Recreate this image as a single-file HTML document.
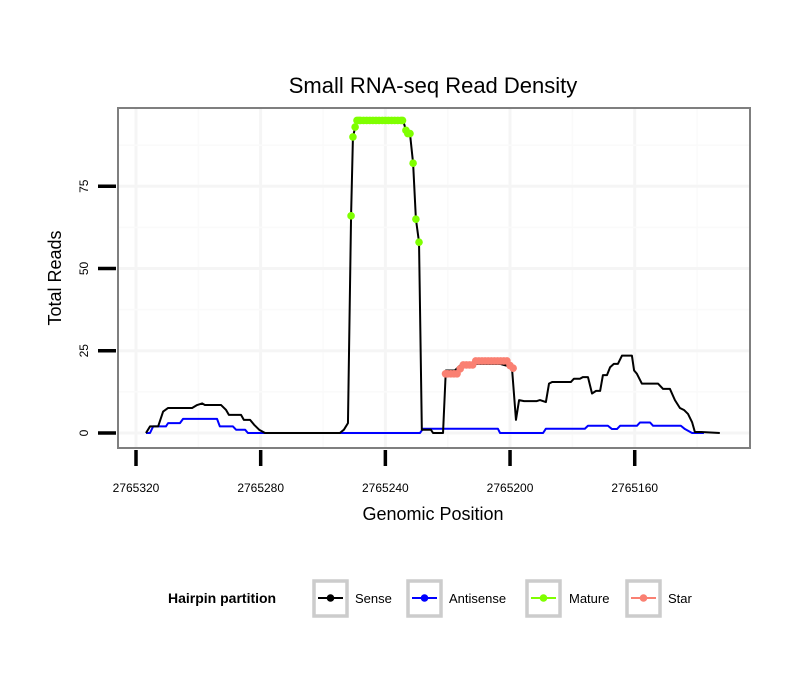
<!DOCTYPE html>
<html><head><meta charset="utf-8"><style>
body{margin:0;background:#fff;font-family:"Liberation Sans",sans-serif}
svg text{font-family:"Liberation Sans",sans-serif}
</style></head><body>
<svg id="chart" width="810" height="690" xmlns="http://www.w3.org/2000/svg">
<rect width="810" height="690" fill="#fff"/>
<text x="433" y="93" font-size="22" text-anchor="middle">Small RNA-seq Read Density</text>
<g id="grid"></g>
<g id="plot"></g>
<rect x="118" y="108" width="632" height="340" fill="none" stroke="#7f7f7f" stroke-width="2"/>
<g id="axes"></g>
<text x="433" y="520" font-size="18" text-anchor="middle">Genomic Position</text>
<text transform="translate(61,278) rotate(-90)" font-size="18" text-anchor="middle">Total Reads</text>
<g>
<text x="168" y="603" font-size="14" font-weight="bold">Hairpin partition</text>
<g id="legend"></g>
</g>
</svg>
<script>
const B = 2765320;
const xTicks = [2765320, 2765280, 2765240, 2765200, 2765160];
const yTicks = [0, 25, 50, 75];
const sensePos = [3.2,4.5,7.1,8.7,10.3,18.0,19.6,21.2,22.1,27.3,28.9,29.8,33.7,34.6,36.6,37.9,39.5,41.4,65.4,66.7,68.0,69.0,69.6,70.6,71.9,85.7,86.6,87.9,88.9,89.8,90.8,91.7,94.6,95.3,98.5,99.4,102.3,103.9,107.1,110.4,116.8,120.6,121.9,122.9,124.5,128.6,129.6,131.5,132.5,133.5,139.5,140.5,142.4,143.4,145.0,146.3,147.6,148.9,149.8,151.1,152.1,153.3,154.6,155.9,159.1,159.8,160.7,162.3,167.5,169.1,171.3,172.9,174.5,175.8,177.1,178.4,179.3,181.3,187.3].map(d => B - d);
const senseVal = [0,2,2,6.5,7.6,7.6,8.5,9,8.5,8.5,7,5.5,5.5,4,4,2.5,1,0,0,1,3,66,90,94,95,95,92,91,82,65,58,1,1,0,0,19,19,20.5,21,21,21,20,4,10,9.7,9.7,10,9.4,15,15.5,15.5,16.5,16.5,17,17,12,12.8,12.8,17.6,17.6,20,21,21,23.5,23.5,19,18,15,15,13.4,13.4,10,7.6,7,5.8,3.3,0.3,0.3,0];
const antiPos = [3.2,4.5,5.5,9.6,10.3,14.1,15.1,26.0,26.9,31.1,32.1,35.0,35.9,91.1,92.1,116.1,116.8,130.6,131.5,144.0,145.0,151.4,152.7,154.3,155.3,160.7,161.7,164.9,165.9,174.8,176.1,178.4,182.2].map(d => B - d);
const antiVal = [0,0,2,2,3,3,4.3,4.3,2,2,1,1,0,0,1.3,1.3,0,0,1.3,1.3,2.2,2.2,1.2,1.2,2.2,2.2,3.2,3.2,2.2,2.2,1.2,0,0];
const maturePos = [69.0,69.6,70.3,70.9,71.5,72,73,74,75,76,77,78,79,80,81,82,83,84,85,85.5,86.6,87.2,87.9,88.9,89.8,90.8].map(d => B - d);
const matureVal = [66,90,93,95,95,95,95,95,95,95,95,95,95,95,95,95,95,95,95,95,92,91,91,82,65,58];
const starPos = [99.3,100,101,102,103,104,105,106,107,108,109,110,111,112,113,114,115,116,117,118,119,120,121].map(d => B - d);
const starVal = [18,18,18,18,18,19.5,20.7,20.7,20.7,20.7,21.9,21.9,21.9,21.9,21.9,21.9,21.9,21.9,21.9,21.9,21.9,20.5,19.7];

const NS = "http://www.w3.org/2000/svg";
const xs = v => 136 + (B - v) * 3.117;
const ys = v => 433 - v * 3.29;
function mk(tag, attrs, parent){const e=document.createElementNS(NS,tag);for(const k in attrs)e.setAttribute(k,attrs[k]);parent.appendChild(e);return e;}
const grid=document.getElementById('grid'), plot=document.getElementById('plot'), axes=document.getElementById('axes');
mk('rect',{x:118,y:108,width:632,height:340,fill:'#fff'},grid);
for(let i=0;i<xTicks.length;i++){
  const gx=xs(xTicks[i]);
  const l=mk('line',{x1:gx,x2:gx,y1:109,y2:447,stroke:'#f5f5f5','stroke-width':3},grid);
  
  
  const mx=xs(xTicks[i]-20);
  if(mx<750) mk('line',{x1:mx,x2:mx,y1:109,y2:447,stroke:'#fafafa','stroke-width':1.5},grid);
}
for(let i=0;i<yTicks.length;i++){
  const gy=ys(yTicks[i]);
  const l=mk('line',{x1:119,x2:749,y1:gy,y2:gy,stroke:'#f5f5f5','stroke-width':3},grid);
  
  
  const my=ys(yTicks[i]+12.5);
  if(my>108) mk('line',{x1:119,x2:749,y1:my,y2:my,stroke:'#fafafa','stroke-width':1.5},grid);
}
function line(pos,val,color,name){
  const p=mk('polyline',{points:pos.map((v,i)=>xs(v)+','+ys(val[i])).join(' '),fill:'none',stroke:color,'stroke-width':2,'stroke-linejoin':'round'},plot);
  
  
}
function pts(pos,val,color,name){
  pos.forEach((v,i)=>{
    const c=mk('circle',{cx:xs(v),cy:ys(val[i]),r:3.8,fill:color},plot);
    
    
  });
}
line(antiPos,antiVal,'#0000ff','antisense-line');
line(sensePos,senseVal,'#000','sense-line');
pts(maturePos,matureVal,'#7fff00','mature-point');
pts(starPos,starVal,'#fa8072','star-point');
xTicks.forEach(t=>{
  const x=xs(t);
  mk('line',{x1:x,x2:x,y1:450,y2:466,stroke:'#000','stroke-width':3.5},axes);
  const tx=mk('text',{x:x,y:492,'font-size':12,'text-anchor':'middle'},axes);
  tx.textContent=t;
  
  
});
yTicks.forEach(t=>{
  const y=ys(t);
  mk('line',{x1:98,x2:116,y1:y,y2:y,stroke:'#000','stroke-width':3.5},axes);
  const tx=mk('text',{transform:'translate(88,'+y+') rotate(-90)','font-size':12,'text-anchor':'middle'},axes);
  tx.textContent=t;
  
  
});
const leg=document.getElementById('legend');
const items=[['Sense','#000',314,355],['Antisense','#0000ff',408,449],['Mature','#7fff00',527,569],['Star','#fa8072',627,668]];
items.forEach(it=>{
  const g=mk('g',{},leg);
  
  
  mk('rect',{x:it[2],y:581,width:33,height:35,fill:'#fff',stroke:'#cccccc','stroke-width':3.5},g);
  mk('line',{x1:it[2]+4,x2:it[2]+29,y1:598,y2:598,stroke:it[1],'stroke-width':2},g);
  mk('circle',{cx:it[2]+16.5,cy:598,r:3.8,fill:it[1]},g);
  const t=mk('text',{x:it[3],y:603,'font-size':13},g);
  t.textContent=it[0];
});
</script>
</body></html>
